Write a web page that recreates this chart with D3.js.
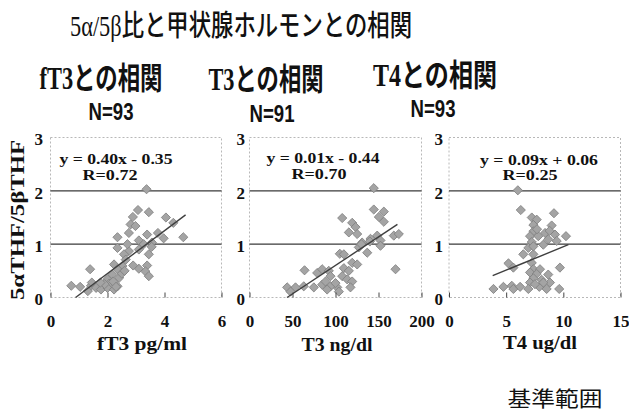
<!DOCTYPE html>
<html><head><meta charset="utf-8">
<script src="https://cdn.jsdelivr.net/npm/d3@7"></script>
<style>body{margin:0;background:#fff}svg{display:block}</style>
</head><body>
<script>
// ---- data ----
const chartTitle = "5α/5β比と甲状腺ホルモンとの相関";
const panelTitles = ["fT3との相関", "T3との相関", "T4との相関"];
const panelN = ["N=93", "N=91", "N=93"];
const xTitles = ["fT3 pg/ml", "T3 ng/dl", "T4 ug/dl"];
const yTitle = "5αTHF/5βTHF";
const equations = ["y = 0.40x - 0.35", "y = 0.01x - 0.44", "y = 0.09x + 0.06"];
const rValues = ["R=0.72", "R=0.70", "R=0.25"];
const footnote = "基準範囲";
const xTicks1 = [0, 2, 4, 6];
const xTicks2 = [0, 50, 100, 150, 200];
const xTicks3 = [0, 5, 10, 15];
const yTicks = [0, 1, 2, 3];
const refLines = [1, 2];

const fT3X = [3.37,3.07,3.45,4.05,4.31,2.89,2.81,2.98,2.75,3.39,3.77,3.97,4.66,2.35,3.10,3.27,3.56,2.35,2.75,2.58,3.10,3.45,2.23,2.52,3.10,3.39,3.33,3.45,1.39,2.35,2.17,2.41,2.00,2.06,0.73,1.04,1.42,1.60,1.77,2.00,2.23,2.35,1.31,2.64,2.20,1.90,2.50,2.60,2.30,1.45,1.75,2.90,3.55,2.70];
const fT3Y = [2.03,1.64,1.60,1.50,1.40,1.51,1.37,1.34,1.21,1.18,1.21,1.11,1.13,1.13,1.07,1.00,1.03,0.93,0.87,0.81,0.90,0.81,0.62,0.59,0.54,0.60,0.49,0.40,0.53,0.53,0.43,0.37,0.34,0.26,0.22,0.20,0.22,0.18,0.15,0.18,0.15,0.21,0.12,0.71,0.30,0.25,0.45,0.50,0.20,0.28,0.28,0.60,0.95,1.00];
const t3X = [144.5,144.5,156.2,150.4,156.2,107.8,119.4,123.3,115.5,125.2,148.5,152.3,167.8,173.6,140.7,131.0,127.1,152.3,136.9,105.0,119.4,125.2,109.7,115.5,169.8,64.0,78.7,84.5,92.2,94.2,107.8,113.6,119.4,117.4,102.0,94.2,84.5,74.8,63.1,53.5,43.8,47.7,90.3,103.9,88.4,100.0,109.7,130.0,140.0];
const t3Y = [2.05,1.65,1.61,1.51,1.42,1.49,1.40,1.32,1.22,1.19,1.16,1.07,1.16,1.19,1.10,1.03,0.94,0.97,0.84,0.82,0.65,0.62,0.55,0.50,0.53,0.51,0.46,0.53,0.50,0.40,0.40,0.34,0.30,0.19,0.19,0.21,0.24,0.19,0.21,0.19,0.19,0.11,0.15,0.11,0.30,0.27,0.81,1.00,1.05];
const t4X = [6.02,6.28,9.18,7.24,7.67,7.38,8.98,8.40,7.38,7.09,7.81,9.27,10.23,8.68,7.24,8.25,9.42,6.50,7.38,5.20,5.63,7.24,7.38,7.96,9.70,7.09,7.67,8.68,7.38,8.11,7.09,8.83,3.89,4.76,5.49,5.63,6.22,6.94,7.90,8.54,9.64,8.25,7.52,6.94,7.38,7.70,8.80];
const t4Y = [2.01,1.64,1.58,1.50,1.46,1.36,1.35,1.21,1.24,1.15,1.15,1.18,1.15,1.09,1.04,0.99,1.06,0.81,0.81,0.64,0.56,0.65,0.53,0.53,0.56,0.47,0.44,0.43,0.36,0.33,0.28,0.28,0.16,0.20,0.22,0.16,0.20,0.16,0.20,0.16,0.16,0.28,0.25,0.93,0.96,1.28,1.25];
const trend1X = [0.88, 4.74], trend1Y = [0.00, 1.55];
const trend2X = [43.6, 172], trend2Y = [0.00, 1.37];
const trend3X = [3.82, 10.44], trend3Y = [0.41, 0.99];

// ---- drawing ----
const W = 629, H = 413;
const svg = d3.select("body").append("svg").attr("width", W).attr("height", H);
const serif = "'Liberation Serif','Times New Roman','Noto Sans CJK JP',serif";
const cjk = "'Liberation Serif','Noto Sans CJK JP',sans-serif";

function txt(s, x, y, size, len, opts = {}) {
  const t = svg.append("text").attr("x", x).attr("y", y)
    .attr("font-size", size).attr("font-family", opts.family || serif)
    .attr("font-weight", opts.weight || "bold").attr("fill", "#111")
    .attr("text-anchor", opts.anchor || "middle").text(s);
  if (len) t.attr("textLength", len).attr("lengthAdjust", "spacingAndGlyphs");
  if (opts.transform) t.attr("transform", opts.transform);
  return t;
}

txt(chartTitle, 241, 36, 29, 342, {family: cjk, weight: 500});

const y = d3.scaleLinear().domain([0, 3]).range([297.5, 137.5]);
const panels = [
  {xs: fT3X, ys: fT3Y, tx: trend1X, ty: trend1Y, ticks: xTicks1, dom: [0, 6], rng: [50.5, 221.5],
   head: [101, 89, 123], n: [111, 120], xt: [142, 350], eq: [116, 164, 113], r: [110, 180, 55], yl: 43},
  {xs: t3X, ys: t3Y, tx: trend2X, ty: trend2Y, ticks: xTicks2, dom: [0, 200], rng: [249.5, 421.5],
   head: [266, 90, 115], n: [272, 122], xt: [337, 351], eq: [323, 163, 113], r: [319, 179, 55], yl: 245},
  {xs: t4X, ys: t4Y, tx: trend3X, ty: trend3Y, ticks: xTicks3, dom: [0, 15], rng: [449, 620.5],
   head: [435, 86, 124], n: [433, 117], xt: [540, 349], eq: [539, 165, 118], r: [530, 180, 55], yl: 443}
];

panels.forEach((p, i) => {
  const x = d3.scaleLinear().domain(p.dom).range(p.rng);
  const [x0, x1] = p.rng, [y0, y1] = y.range();
  const g = svg.append("g");
  // headers
  txt(panelTitles[i], p.head[0], p.head[1], 31, p.head[2], {family: cjk});
  txt(panelN[i], p.n[0], p.n[1], 23, 45, {family: "'Liberation Sans',Arial,sans-serif"});
  // frame (dotted)
  g.append("rect").attr("x", x0).attr("y", y1).attr("width", x1 - x0).attr("height", y0 - y1)
    .attr("fill", "none").attr("stroke", "#b8b8b8").attr("stroke-width", 1).attr("stroke-dasharray", "2,2");
  // reference lines
  g.selectAll("line.ref").data(refLines).join("line").attr("class", "ref")
    .attr("x1", x0).attr("x2", x1).attr("y1", d => y(d)).attr("y2", d => y(d))
    .attr("stroke", "#3a3a3a").attr("stroke-width", 1.2);
  // x axis
  const xa = svg.append("g").attr("transform", `translate(0,${y0})`)
    .call(d3.axisBottom(x).tickValues(p.ticks).tickFormat(d3.format("d"))
      .tickSizeInner(-5).tickSizeOuter(0).tickPadding(17));
  xa.select(".domain").remove();
  xa.selectAll(".tick line").attr("stroke", "#444");
  xa.selectAll(".tick text").attr("font-family", serif).attr("font-weight", "bold")
    .attr("font-size", 17).attr("fill", "#111");
  // y axis
  const ya = svg.append("g").attr("transform", `translate(${p.yl},2)`)
    .call(d3.axisLeft(y).tickValues(yTicks).tickSize(0).tickPadding(0).tickFormat(d3.format("d")));
  ya.select(".domain").remove();
  ya.selectAll(".tick text").attr("font-family", serif).attr("font-weight", "bold")
    .attr("font-size", 17).attr("fill", "#111");
  // points
  const pts = p.xs.map((v, k) => [v, p.ys[k]]);
  g.selectAll("path.pt").data(pts).join("path").attr("class", "pt")
    .attr("d", d3.symbol(d3.symbolSquare, 42))
    .attr("transform", d => `translate(${x(d[0])},${y(d[1])}) rotate(45)`)
    .attr("fill", "#a4a4a4").attr("stroke", "#808080").attr("stroke-width", 0.8);
  // trend line
  g.append("path").datum(p.tx.map((v, k) => [v, p.ty[k]]))
    .attr("d", d3.line().x(d => x(d[0])).y(d => y(d[1])))
    .attr("fill", "none").attr("stroke", "#3f3f3f").attr("stroke-width", 1.4);
  // equation
  txt(equations[i], p.eq[0], p.eq[1], 15, p.eq[2]);
  txt(rValues[i], p.r[0], p.r[1], 15, p.r[2]);
  // x title
  txt(xTitles[i], p.xt[0], p.xt[1], 19, i === 0 ? 90 : (i === 1 ? 71 : 74));
});

txt(yTitle, 0, 0, 18, 160, {transform: "translate(24,220) rotate(-90)"});
txt(footnote, 555, 406, 21, 95, {family: "'Noto Sans CJK JP',sans-serif", weight: "normal"});
</script>
</body></html>
